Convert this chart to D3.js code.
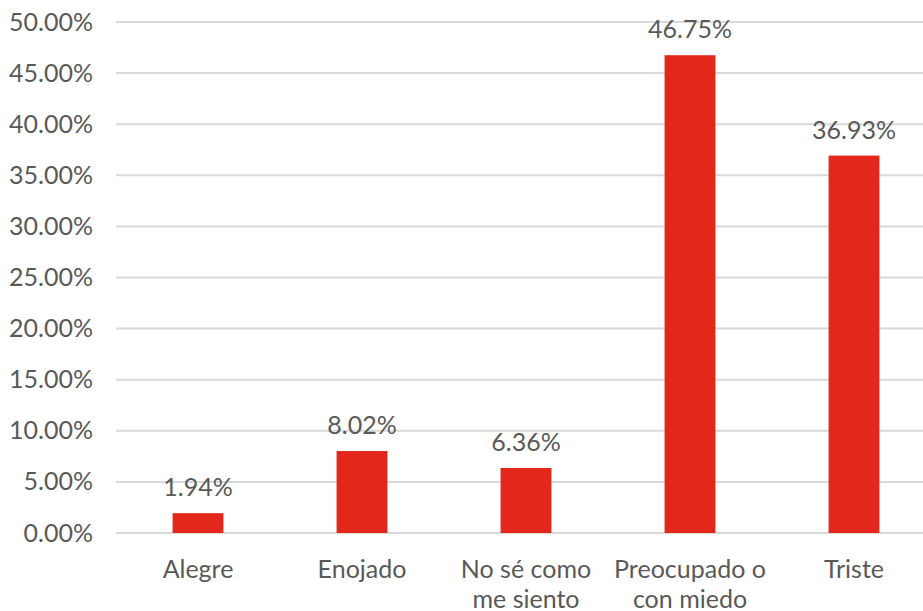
<!DOCTYPE html>
<html>
<head>
<meta charset="utf-8">
<script src="https://cdn.jsdelivr.net/npm/d3@7"></script>
<style>
  html, body { margin: 0; padding: 0; background: #fff; }
</style>
</head>
<body>
<div id="chart"></div>
<script>
const WIDTH  = 923;
const HEIGHT = 611;

const COLORS = {
  bar:  '#e3281b',
  grid: '#d9d9d9',
  text: '#595959'
};
const FONT = 'Lato, "Open Sans", sans-serif';
const FONT_SIZE = '25px';

// Data
var categories = [
  ['Alegre'],
  ['Enojado'],
  ['No sé como', 'me siento'],
  ['Preocupado o', 'con miedo'],
  ['Triste']
];
var values = [1.94, 8.02, 6.36, 46.75, 36.93];
var ticks  = [0, 5, 10, 15, 20, 25, 30, 35, 40, 45, 50];

var margin = { top: 22, right: -13, bottom: 78, left: 116 };

var svg = d3.select('#chart').append('svg')
  .attr('width', WIDTH)
  .attr('height', HEIGHT)
  .style('font-family', FONT);

var x = d3.scaleBand()
  .domain(d3.range(values.length))
  .range([margin.left, WIDTH - margin.right])
  .paddingInner(0.69)
  .paddingOuter(0.345);

var y = d3.scaleLinear()
  .domain([0, 50])
  .range([HEIGHT - margin.bottom, margin.top]);

// Gridlines
svg.append('g')
    .selectAll('line')
    .data(ticks)
  .enter().append('line')
    .attr('x1', margin.left)
    .attr('x2', WIDTH)
    .attr('y1', d => y(d))
    .attr('y2', d => y(d))
    .style('stroke', COLORS.grid)
    .style('stroke-width', 2);

// Y axis labels
var yAxis = svg.append('g')
  .attr('transform', `translate(${margin.left - 23},0)`)
  .call(d3.axisLeft(y).tickValues(ticks).tickSize(0).tickFormat(d => d.toFixed(2) + '%'));
yAxis.select('.domain').remove();
yAxis.selectAll('text')
  .attr('x', 0)
  .style('fill', COLORS.text)
  .style('font-family', FONT)
  .style('font-size', FONT_SIZE);

// Bars
svg.append('g')
    .selectAll('rect')
    .data(values)
  .enter().append('rect')
    .attr('x', (d, i) => x(i))
    .attr('y', d => y(d))
    .attr('width', x.bandwidth())
    .attr('height', d => y(0) - y(d))
    .style('fill', COLORS.bar);

// Value labels
svg.append('g')
    .selectAll('text')
    .data(values)
  .enter().append('text')
    .attr('x', (d, i) => x(i) + x.bandwidth() / 2)
    .attr('y', d => y(d) - 17)
    .attr('text-anchor', 'middle')
    .style('fill', COLORS.text)
    .style('font-size', FONT_SIZE)
    .text(d => d.toFixed(2) + '%');

// Category labels
svg.append('g')
    .selectAll('text')
    .data(categories)
  .enter().append('text')
    .attr('text-anchor', 'middle')
    .attr('transform', (d, i) => `translate(${x(i) + x.bandwidth() / 2},${y(0) + 45})`)
    .style('fill', COLORS.text)
    .style('font-size', FONT_SIZE)
    .each(function(d) {
      d3.select(this).selectAll('tspan')
          .data(d)
        .enter().append('tspan')
          .attr('x', 0)
          .attr('dy', (t, j) => j ? 30 : 0)
          .text(t => t);
    });
</script>
</body>
</html>
